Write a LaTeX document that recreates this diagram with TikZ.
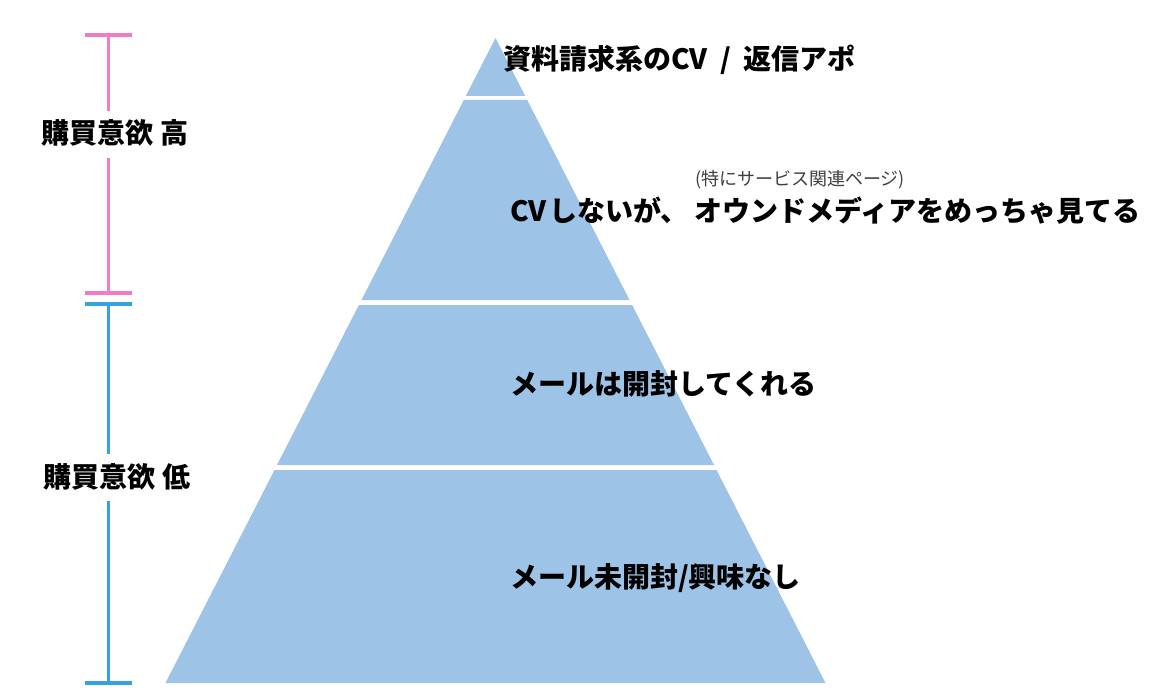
\documentclass[tikz,border=0pt]{standalone}
\usepackage{fontspec}
\setmainfont{Noto Sans CJK JP}
\definecolor{tierfill}{HTML}{9DC3E6}
\definecolor{pinkbar}{HTML}{F07CC8}
\definecolor{bluebar}{HTML}{36A2DD}
\definecolor{subgray}{HTML}{404040}
\begin{document}
\begin{tikzpicture}[x=1pt,y=-1pt,
  tier/.style={fill=tierfill,draw=none},
  lbl/.style={inner sep=0pt,anchor=west,font=\fontsize{28pt}{30pt}\selectfont\bfseries,text=black},
  sidelbl/.style={inner sep=0pt,font=\fontsize{28pt}{30pt}\selectfont\bfseries,text=black},
  sublbl/.style={inner sep=0pt,font=\fontsize{18pt}{20pt}\selectfont,text=subgray},
  pinkline/.style={draw=pinkbar,line width=3.5pt},
  blueline/.style={draw=bluebar,line width=3.5pt}]
\useasboundingbox (0,0) rectangle (1155,700);
\fill[white] (0,0) rectangle (1155,700);
% pyramid tiers
\path[tier] (495.5,38) -- (525.2,96) -- (465.8,96) -- cycle;
\path[tier] (463.8,100) -- (527.2,100) -- (629.5,300) -- (361.5,300) -- cycle;
\path[tier] (358.9,305) -- (632.1,305) -- (714.0,465) -- (277.0,465) -- cycle;
\path[tier] (274.5,470) -- (716.5,470) -- (825.5,683) -- (165.5,683) -- cycle;
% tier labels
\node[lbl] (t1) at (503,60) {資料請求系のCV\hspace{0.45em}/\hspace{0.45em}返信アポ};
\node[sublbl] (t2s) at (800,180) {(特にサービス関連ページ)};
\node[lbl] (t2) at (510,211) {CV\hspace{0.1em}しないが、\hspace{0.2em}オウンドメディアをめっちゃ見てる};
\node[lbl] (t3) at (510,384) {メールは開封してくれる};
\node[lbl] (t4) at (510,578) {メール未開封/興味なし};
% side labels
\node[sidelbl] (hi) at (115,133) {購買意欲 高};
\node[sidelbl] (lo) at (117,477) {購買意欲 低};
% pink bar
\coordinate (pt) at (108.5,35);
\coordinate (pb) at (108.5,293);
\draw[pinkline] (85,35) -- (132,35);
\draw[pinkline] (85,293) -- (132,293);
\coordinate (pa) at (108.5,111);
\coordinate (pc) at (108.5,158);
\draw[pinkline] (pt) -- (pa);
\draw[pinkline] (pc) -- (pb);
% blue bar
\coordinate (bt) at (108.5,304);
\coordinate (bb) at (108.5,683);
\draw[blueline] (85,304) -- (132,304);
\draw[blueline] (85,683) -- (132,683);
\coordinate (ba) at (108.5,454);
\coordinate (bc) at (108.5,501);
\draw[blueline] (bt) -- (ba);
\draw[blueline] (bc) -- (bb);
\end{tikzpicture}
\end{document}
